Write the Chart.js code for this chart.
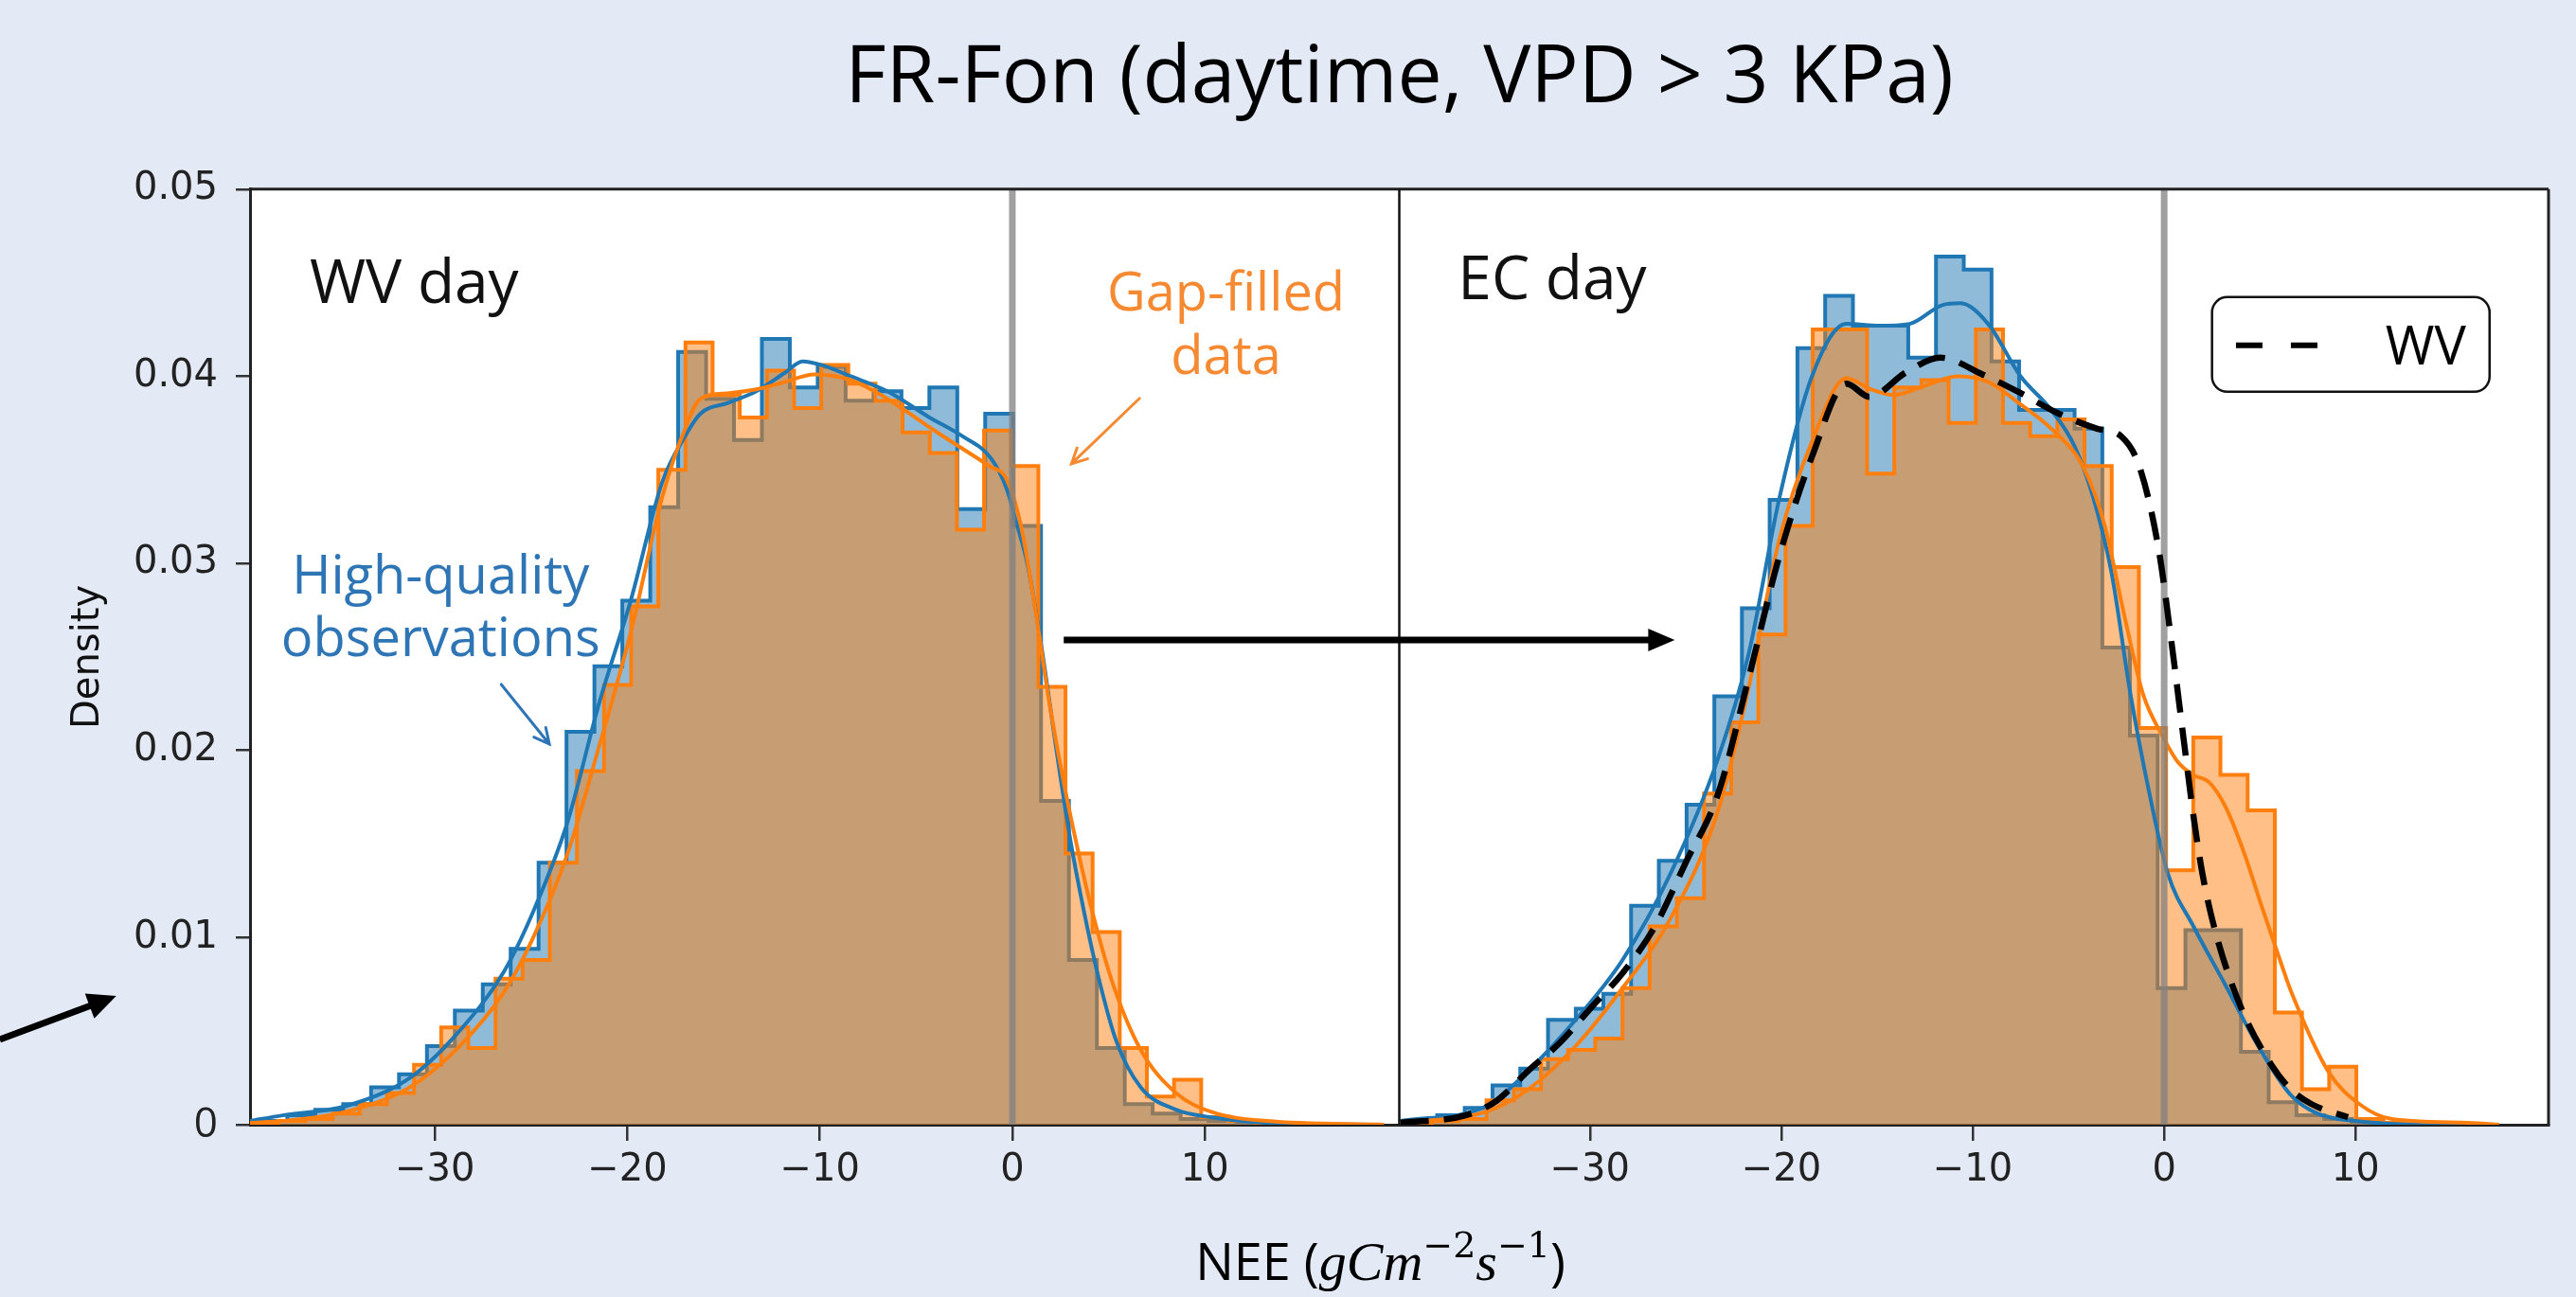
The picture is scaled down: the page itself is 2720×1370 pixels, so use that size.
<!DOCTYPE html>
<html>
<head>
<meta charset="utf-8">
<title>FR-Fon (daytime, VPD > 3 KPa)</title>
<script src="https://cdn.jsdelivr.net/npm/chart.js@4.4.1/dist/chart.umd.min.js"></script>
<style>
    html, body { margin: 0; padding: 0; background: #E3E9F5; overflow: hidden; }
    canvas { display: block; }
</style>
</head>
<body>
<canvas id="myChartCanvas" width="2720" height="1370"></canvas>
<script>
// ---------------- dados ----------------
// painel esquerdo (WV day): bordas dos bins e densidades
const wvHqBordas = [-39.11, -37.66, -36.21, -34.76, -33.31, -31.86, -30.41, -28.96, -27.51, -26.06, -24.61, -23.16,
    -21.71, -20.26, -18.81, -17.36, -15.91, -14.46, -13.01, -11.56, -10.11, -8.66, -7.21, -5.76, -4.31, -2.86,
    -1.41, 0.04, 1.49, 2.94, 4.39, 5.84, 7.29, 8.74, 10.19, 11.64, 13.09];
const wvHqDensidade = [0.0002, 0.0005, 0.0008, 0.0011, 0.002, 0.0027, 0.0042, 0.0061, 0.0075, 0.0094, 0.014, 0.021,
    0.0245, 0.028, 0.033, 0.0413, 0.0388, 0.0366, 0.042, 0.0394, 0.0405, 0.0387, 0.0392, 0.0383, 0.0394, 0.0329,
    0.038, 0.032, 0.0173, 0.0088, 0.0041, 0.0011, 0.0006, 0.0003, 0.0002, 0.0001];

const wvGfBordas = [-39.54, -38.13, -36.72, -35.31, -33.90, -32.49, -31.08, -29.67, -28.26, -26.85, -25.44, -24.03,
    -22.62, -21.21, -19.80, -18.39, -16.98, -15.57, -14.16, -12.75, -11.34, -9.93, -8.52, -7.11, -5.70, -4.29,
    -2.88, -1.47, -0.06, 1.35, 2.76, 4.17, 5.58, 6.99, 8.40, 9.81, 11.22, 12.63, 14.04];
const wvGfDensidade = [0.0001, 0.0002, 0.0003, 0.0006, 0.0011, 0.0017, 0.0032, 0.0052, 0.0041, 0.0078, 0.0088, 0.014,
    0.0189, 0.0235, 0.0277, 0.035, 0.0418, 0.039, 0.0378, 0.0403, 0.0383, 0.0406, 0.0396, 0.0387, 0.037, 0.0359,
    0.0318, 0.0371, 0.0352, 0.0234, 0.0145, 0.0103, 0.0041, 0.0015, 0.0024, 0.0004, 0.0002, 0.0001];

// painel direito (EC day)
const ecHqBordas = [-39.43, -37.98, -36.54, -35.09, -33.64, -32.19, -30.74, -29.30, -27.85, -26.40, -24.95, -23.50,
    -22.06, -20.61, -19.16, -17.71, -16.26, -14.81, -13.37, -11.92, -10.47, -9.02, -7.58, -6.13, -4.68, -3.23,
    -1.79, -0.34, 1.11, 2.56, 4.01, 5.46, 6.91, 8.36, 9.81, 11.26];
const ecHqDensidade = [0.0002, 0.0005, 0.0009, 0.0021, 0.003, 0.0056, 0.0062, 0.007, 0.0117, 0.0141, 0.0171, 0.0229,
    0.0276, 0.0334, 0.0415, 0.0443, 0.0427, 0.0427, 0.041, 0.0464, 0.0457, 0.0408, 0.0382, 0.0382, 0.0372, 0.0255,
    0.0208, 0.0073, 0.0104, 0.0104, 0.0039, 0.0012, 0.0005, 0.0003, 0.0001];

const ecGfBordas = [-39.66, -38.24, -36.82, -35.40, -33.98, -32.56, -31.14, -29.72, -28.30, -26.88, -25.46, -24.04,
    -22.62, -21.20, -19.78, -18.36, -16.94, -15.52, -14.10, -12.68, -11.26, -9.84, -8.42, -7.00, -5.58, -4.16,
    -2.74, -1.32, 0.10, 1.52, 2.94, 4.36, 5.78, 7.20, 8.62, 10.04, 11.46, 12.88];
const ecGfDensidade = [0.0001, 0.0002, 0.0003, 0.0013, 0.0019, 0.0035, 0.004, 0.0046, 0.0073, 0.0106, 0.0121, 0.0177,
    0.0215, 0.0262, 0.032, 0.0425, 0.0425, 0.0348, 0.0394, 0.0398, 0.0375, 0.0425, 0.0375, 0.0368, 0.0377, 0.0352,
    0.0298, 0.0212, 0.0136, 0.0207, 0.0187, 0.0168, 0.006, 0.0019, 0.0031, 0.0003, 0.0001];

// curvas KDE (x = NEE, y = densidade)
const wvKdeHqX = [-39.6, -37.9, -34.6, -31.3, -28.9, -26.4, -24.8, -23.1, -21.5, -19.8, -18.2, -17.0, -16.2, -14.7,
    -13.3, -11.8, -10.9, -9.9, -8.4, -6.5, -4.3, -2.6, -1.1, -0.3, 0.26, 0.82, 1.55, 2.28, 3.0, 3.74, 4.47, 5.39,
    6.67, 8.5, 10.3, 13.2, 19.3];
const wvKdeHqY = [0.0002, 0.0005, 0.001, 0.0025, 0.0048, 0.0082, 0.0116, 0.0162, 0.0224, 0.0281, 0.0343, 0.0368,
    0.038, 0.0386, 0.0392, 0.0402, 0.0408, 0.0406, 0.04, 0.0392, 0.0378, 0.0368, 0.0356, 0.034, 0.032, 0.0298,
    0.0253, 0.0201, 0.0153, 0.0113, 0.0079, 0.0045, 0.002, 0.0008, 0.0004, 0.0001, 0.0];

const wvKdeGfX = [-39.6, -37.9, -34.6, -31.3, -28.9, -26.4, -24.8, -23.1, -21.5, -19.8, -18.2, -17.0, -16.2, -14.7,
    -13.3, -11.8, -10.3, -8.4, -6.5, -4.2, -2.7, -1.2, -0.3, 0.45, 1.2, 1.9, 2.65, 3.4, 4.1, 5.2, 6.67, 8.5, 10.3,
    13.2, 19.3];
const wvKdeGfY = [0.0001, 0.0002, 0.0007, 0.002, 0.004, 0.0071, 0.0102, 0.0145, 0.0201, 0.0264, 0.0335, 0.0372,
    0.0388, 0.0391, 0.0393, 0.0397, 0.0401, 0.0398, 0.0388, 0.0372, 0.0362, 0.0352, 0.0345, 0.032, 0.0275, 0.0227,
    0.0184, 0.0147, 0.0116, 0.0076, 0.004, 0.0017, 0.0007, 0.0002, 0.0];

const ecKdeHqX = [-39.9, -35.4, -33.2, -30.75, -28.3, -25.8, -23.3, -21.7, -20.1, -18.4, -16.6, -14.9, -13.3, -11.6,
    -10.65, -9.2, -7.5, -5.9, -4.7, -3.7, -2.75, -1.76, -0.77, 0.2, 1.53, 3.18, 4.8, 6.6, 8.0, 10.0, 14.0, 17.5];
const ecKdeHqY = [0.0002, 0.001, 0.0029, 0.0056, 0.0088, 0.0134, 0.0196, 0.0252, 0.0335, 0.040, 0.0428, 0.0427,
    0.0428, 0.0438, 0.0439, 0.0428, 0.040, 0.0382, 0.0363, 0.0335, 0.0295, 0.023, 0.0177, 0.0134, 0.0106, 0.0075,
    0.0044, 0.0016, 0.0006, 0.0002, 0.0, 0.0];

const ecKdeGfX = [-39.9, -35.4, -33.2, -30.75, -28.3, -25.8, -23.3, -21.7, -20.1, -18.4, -16.6, -15.3, -14.1, -12.5,
    -10.8, -9.2, -7.5, -5.9, -4.2, -3.1, -2.1, -1.1, -0.1, 0.7, 1.5, 2.35, 3.2, 4.15, 5.15, 6.15, 6.6, 8.6, 10.2,
    11.9, 15.9, 17.5];
const ecKdeGfY = [0.0001, 0.0007, 0.0019, 0.0042, 0.0073, 0.011, 0.0168, 0.0234, 0.0313, 0.0365, 0.0399, 0.0393,
    0.039, 0.0395, 0.040, 0.0397, 0.0385, 0.0372, 0.0351, 0.032, 0.0273, 0.023, 0.0208, 0.0194, 0.0187, 0.0183,
    0.017, 0.0146, 0.0115, 0.0085, 0.0072, 0.0028, 0.0011, 0.0003, 0.0001, 0.0];

// KDE do WV sobreposta no painel EC (linha tracejada)
const wvSobreEcX = [-39.9, -36.5, -34.85, -33.2, -31.55, -29.9, -28.3, -26.6, -25.0, -23.3, -21.7, -20.1, -18.4,
    -16.6, -15.4, -13.5, -11.7, -9.5, -7.5, -5.5, -3.5, -2.26, -1.27, -0.28, 0.38, 1.03, 1.53, 2.0, 2.68, 4.0, 5.6,
    6.6, 7.7, 9.6];
const wvSobreEcY = [0.0001, 0.0005, 0.0013, 0.0029, 0.0044, 0.0063, 0.0081, 0.0106, 0.014, 0.0177, 0.0239, 0.0304,
    0.0357, 0.0396, 0.0389, 0.0402, 0.041, 0.0401, 0.0391, 0.038, 0.0372, 0.0368, 0.0351, 0.0307, 0.0258, 0.0205,
    0.0165, 0.0134, 0.0103, 0.0063, 0.0032, 0.0019, 0.0011, 0.0004];

// linha vertical de referência (NEE = 0) e ticks
const linhaReferencia = [0];
const ticksX = [-30, -20, -10, 0, 10];
const ticksY = [0, 0.01, 0.02, 0.03, 0.04, 0.05];

// ---------------- estilos ----------------
const azul = '#1f77b4';
const laranja = '#ff7f0e';
const azulFill = 'rgba(31, 119, 180, 0.5)';
const laranjaFill = 'rgba(255, 127, 14, 0.5)';
const corTextoAzul = '#2E75B6';
const corTextoLaranja = '#F58A33';
const corFundo = '#E3E9F5';

// textos e setas desenhados por cima (posições em coordenadas dos eixos)
const anotacoes = [
    { texto: 'WV day', eixo: 'x', x: -36.5, y: 0.0439, cor: '#111', fonte: '64px "Open Sans"', alinhamento: 'left' },
    { texto: 'EC day', eixo: 'x2', x: -36.9, y: 0.0441, cor: '#111', fonte: '64px "Open Sans"', alinhamento: 'left' },
    { texto: 'Gap-filled', eixo: 'x', x: 11.1, y: 0.0435, cor: corTextoLaranja, fonte: '56px "Open Sans"', alinhamento: 'center' },
    { texto: 'data', eixo: 'x', x: 11.1, y: 0.0401, cor: corTextoLaranja, fonte: '56px "Open Sans"', alinhamento: 'center' },
    { texto: 'High-quality', eixo: 'x', x: -29.7, y: 0.0284, cor: corTextoAzul, fonte: '56px "Open Sans"', alinhamento: 'center' },
    { texto: 'observations', eixo: 'x', x: -29.7, y: 0.02505, cor: corTextoAzul, fonte: '56px "Open Sans"', alinhamento: 'center' }
];

const setas = [
    { de: ['x', 2.67, 0.0259], para: ['x2', -25.57, 0.0259], cor: '#000', largura: 7, ponta: 28, meia: 12, cheia: true },
    { de: ['x', -52.6, 0.00455], para: ['x', -46.55, 0.00688], cor: '#000', largura: 7, ponta: 30, meia: 14, cheia: true },
    { de: ['x', -26.55, 0.02353], para: ['x', -24.05, 0.02034], cor: corTextoAzul, largura: 3, ponta: 16, meia: 8, cheia: false },
    { de: ['x', 6.61, 0.03882], para: ['x', 3.07, 0.03532], cor: corTextoLaranja, largura: 3, ponta: 16, meia: 8, cheia: false }
];

const legendaWV = { x0: 2.5, x1: 17.0, y0: 0.04423, y1: 0.03917, amostraX0: 3.75, amostraX1: 8.2, amostraY: 0.04165, textoX: 11.56, textoY: 0.04062 };

// ---------------- funções auxiliares ----------------
function pontosHistograma(bordas, alturas) {
    const pontos = [{ x: bordas[0], y: 0 }];
    for (let i = 0; i < alturas.length; i++) {
        pontos.push({ x: bordas[i], y: alturas[i] });
    }
    pontos.push({ x: bordas[bordas.length - 1], y: 0 });
    return pontos;
}

function histograma(rotulo, eixo, bordas, alturas, cor, corFill, ordem) {
    // 'before': segue na altura do bin atual até a próxima borda, depois sobe/desce
    return {
        label: rotulo, xAxisID: eixo, data: pontosHistograma(bordas, alturas),
        stepped: 'before', fill: 'origin', borderColor: cor, backgroundColor: corFill,
        borderWidth: 4, order: ordem
    };
}

function curva(rotulo, eixo, xs, ys, cor, largura, ordem, tracejado) {
    return {
        label: rotulo, xAxisID: eixo, data: xs.map((x, i) => ({ x: x, y: ys[i] })),
        borderColor: cor, borderWidth: largura, cubicInterpolationMode: 'monotone',
        fill: false, order: ordem, borderDash: tracejado || []
    };
}

function linhaVertical(eixo) {
    return {
        label: 'NEE = 0', xAxisID: eixo,
        data: [{ x: linhaReferencia[0], y: ticksY[0] }, { x: linhaReferencia[0], y: ticksY[ticksY.length - 1] }],
        borderColor: 'rgba(128, 128, 128, 0.75)', borderWidth: 7, fill: false, order: 6
    };
}

function formatarTick(v) {
    return v < 0 ? '\u2212' + Math.abs(v) : String(v);
}

function desenharSeta(ctx, x1, y1, x2, y2, s) {
    const ang = Math.atan2(y2 - y1, x2 - x1);
    const c = Math.cos(ang), sn = Math.sin(ang);
    ctx.save();
    ctx.strokeStyle = s.cor;
    ctx.fillStyle = s.cor;
    ctx.lineWidth = s.largura;
    ctx.beginPath();
    if (s.cheia) {
        ctx.moveTo(x1, y1);
        ctx.lineTo(x2 - s.ponta * 0.8 * c, y2 - s.ponta * 0.8 * sn);
        ctx.stroke();
        ctx.beginPath();
        ctx.moveTo(x2, y2);
        ctx.lineTo(x2 - s.ponta * c + s.meia * sn, y2 - s.ponta * sn - s.meia * c);
        ctx.lineTo(x2 - s.ponta * c - s.meia * sn, y2 - s.ponta * sn + s.meia * c);
        ctx.closePath();
        ctx.fill();
    } else {
        ctx.lineCap = 'round';
        ctx.moveTo(x1, y1);
        ctx.lineTo(x2, y2);
        ctx.moveTo(x2 - s.ponta * c + s.meia * sn, y2 - s.ponta * sn - s.meia * c);
        ctx.lineTo(x2, y2);
        ctx.lineTo(x2 - s.ponta * c - s.meia * sn, y2 - s.ponta * sn + s.meia * c);
        ctx.stroke();
    }
    ctx.restore();
}

// plugin: fundo, moldura, anotações, legenda e título do eixo x
const decoracao = {
    id: 'decoracao',
    beforeDraw(chart) {
        const { ctx, chartArea: a } = chart;
        ctx.save();
        ctx.fillStyle = corFundo;
        ctx.fillRect(0, 0, chart.width, chart.height);
        ctx.fillStyle = '#ffffff';
        ctx.fillRect(a.left, a.top, a.right - a.left, a.bottom - a.top);
        ctx.restore();
    },
    afterDraw(chart) {
        const { ctx, chartArea: a, scales } = chart;
        const py = v => scales.y.getPixelForValue(v);
        const px = (eixo, v) => scales[eixo].getPixelForValue(v);

        ctx.save();
        // moldura (topo, direita e divisão entre painéis)
        ctx.strokeStyle = '#222';
        ctx.lineWidth = 3;
        ctx.beginPath();
        ctx.moveTo(a.left, a.top); ctx.lineTo(a.right, a.top);
        ctx.moveTo(a.right, a.top); ctx.lineTo(a.right, a.bottom);
        ctx.stroke();
        ctx.lineWidth = 2.5;
        ctx.strokeStyle = '#111';
        ctx.beginPath();
        ctx.moveTo(scales.x2.left, a.top); ctx.lineTo(scales.x2.left, a.bottom);
        ctx.stroke();

        // textos
        ctx.textBaseline = 'alphabetic';
        anotacoes.forEach(t => {
            ctx.font = t.fonte;
            ctx.fillStyle = t.cor;
            ctx.textAlign = t.alinhamento;
            ctx.fillText(t.texto, px(t.eixo, t.x), py(t.y));
        });

        // setas
        setas.forEach(s => {
            desenharSeta(ctx, px(s.de[0], s.de[1]), py(s.de[2]), px(s.para[0], s.para[1]), py(s.para[2]), s);
        });

        // legenda "WV"
        const l = legendaWV;
        const lx0 = px('x2', l.x0), lx1 = px('x2', l.x1), ly0 = py(l.y0), ly1 = py(l.y1);
        ctx.beginPath();
        ctx.roundRect(lx0, ly0, lx1 - lx0, ly1 - ly0, 16);
        ctx.fillStyle = '#ffffff';
        ctx.fill();
        ctx.lineWidth = 2.5;
        ctx.strokeStyle = '#111';
        ctx.stroke();
        ctx.beginPath();
        ctx.setLineDash([28, 30]);
        ctx.lineWidth = 6;
        ctx.strokeStyle = '#000';
        ctx.moveTo(px('x2', l.amostraX0), py(l.amostraY));
        ctx.lineTo(px('x2', l.amostraX1), py(l.amostraY));
        ctx.stroke();
        ctx.setLineDash([]);
        ctx.font = '56px "Open Sans"';
        ctx.fillStyle = '#000';
        ctx.textAlign = 'left';
        ctx.fillText('WV', px('x2', l.textoX), py(l.textoY));

        // título do eixo x: NEE (gCm^-2 s^-1)
        const partes = [
            { t: 'NEE (', f: '54px "Open Sans"', dy: 0 },
            { t: 'gCm', f: 'italic 58px "Liberation Serif"', dy: 0 },
            { t: '\u22122', f: '38px "DejaVu Serif"', dy: -24 },
            { t: 's', f: 'italic 58px "Liberation Serif"', dy: 0 },
            { t: '\u22121', f: '38px "DejaVu Serif"', dy: -24 },
            { t: ')', f: '54px "Open Sans"', dy: 0 }
        ];
        let largura = 0;
        partes.forEach(p => { ctx.font = p.f; p.w = ctx.measureText(p.t).width; largura += p.w; });
        let cx = (a.left + a.right) / 2 - 20 - largura / 2;
        const base = a.bottom + 164;
        ctx.fillStyle = '#000';
        partes.forEach(p => {
            ctx.font = p.f;
            ctx.fillText(p.t, cx, base + p.dy);
            cx += p.w;
        });
        ctx.restore();
    }
};

// ---------------- montagem do gráfico ----------------
function eixoX(min, max) {
    return {
        type: 'linear', position: 'bottom', stack: 'paineis', stackWeight: 1,
        min: min, max: max,
        afterBuildTicks: scale => { scale.ticks = ticksX.map(v => ({ value: v })); },
        afterFit: scale => { scale.height = 182; },
        ticks: {
            includeBounds: false, autoSkip: false, maxRotation: 0, padding: 8,
            callback: formatarTick, color: '#222',
            font: { family: 'DejaVu Sans', size: 40 }
        },
        grid: { drawOnChartArea: false, drawTicks: true, tickLength: 17, color: '#333', lineWidth: 2.5 },
        border: { display: true, color: '#222', width: 3 }
    };
}

const dados = {
    datasets: [
        histograma('WV high-quality', 'x', wvHqBordas, wvHqDensidade, azul, azulFill, 10),
        histograma('EC high-quality', 'x2', ecHqBordas, ecHqDensidade, azul, azulFill, 10),
        histograma('WV gap-filled', 'x', wvGfBordas, wvGfDensidade, laranja, laranjaFill, 9),
        histograma('EC gap-filled', 'x2', ecGfBordas, ecGfDensidade, laranja, laranjaFill, 9),
        curva('WV KDE high-quality', 'x', wvKdeHqX, wvKdeHqY, azul, 4, 8),
        curva('EC KDE high-quality', 'x2', ecKdeHqX, ecKdeHqY, azul, 4, 8),
        curva('WV KDE gap-filled', 'x', wvKdeGfX, wvKdeGfY, laranja, 4, 7),
        curva('EC KDE gap-filled', 'x2', ecKdeGfX, ecKdeGfY, laranja, 4, 7),
        linhaVertical('x'),
        linhaVertical('x2'),
        curva('WV', 'x2', wvSobreEcX, wvSobreEcY, '#000', 6.5, 5, [30, 16])
    ]
};

const config = {
    type: 'line',
    data: dados,
    options: {
        responsive: false,
        animation: false,
        devicePixelRatio: 1,
        events: [],
        layout: { padding: { left: 70, right: 29, top: 0, bottom: 0 } },
        elements: { point: { radius: 0 }, line: { tension: 0 } },
        plugins: {
            legend: { display: false },
            tooltip: { enabled: false },
            title: {
                display: true, fullSize: false,
                text: 'FR-Fon (daytime, VPD > 3 KPa)',
                color: '#000',
                font: { family: 'Open Sans', size: 84, weight: 'normal', lineHeight: 1.2 },
                padding: { top: 34, bottom: 65 }
            }
        },
        scales: {
            x: eixoX(-39.6, 20.1),
            x2: eixoX(-39.96, 20.08),
            y: {
                type: 'linear', position: 'left', min: 0, max: 0.05,
                afterBuildTicks: scale => { scale.ticks = ticksY.map(v => ({ value: v })); },
                afterFit: scale => { scale.width = 194; },
                ticks: {
                    padding: 19, color: '#222',
                    callback: v => (v === 0 ? '0' : v.toFixed(2)),
                    font: ctx => (ctx.tick && ctx.tick.value === 0
                        ? { family: 'Open Sans', size: 44 }
                        : { family: 'DejaVu Sans', size: 40 })
                },
                grid: { drawOnChartArea: false, drawTicks: true, tickLength: 15, color: '#333', lineWidth: 2.5 },
                border: { display: true, color: '#222', width: 3 },
                title: {
                    display: true, text: 'Density', color: '#111',
                    font: { family: 'DejaVu Sans', size: 40 },
                    padding: { top: 0, bottom: 0 }
                }
            }
        }
    },
    plugins: [decoracao]
};

const myChart = new Chart(document.getElementById('myChartCanvas'), config);
console.log('gráfico plotado');
</script>
</body>
</html>
